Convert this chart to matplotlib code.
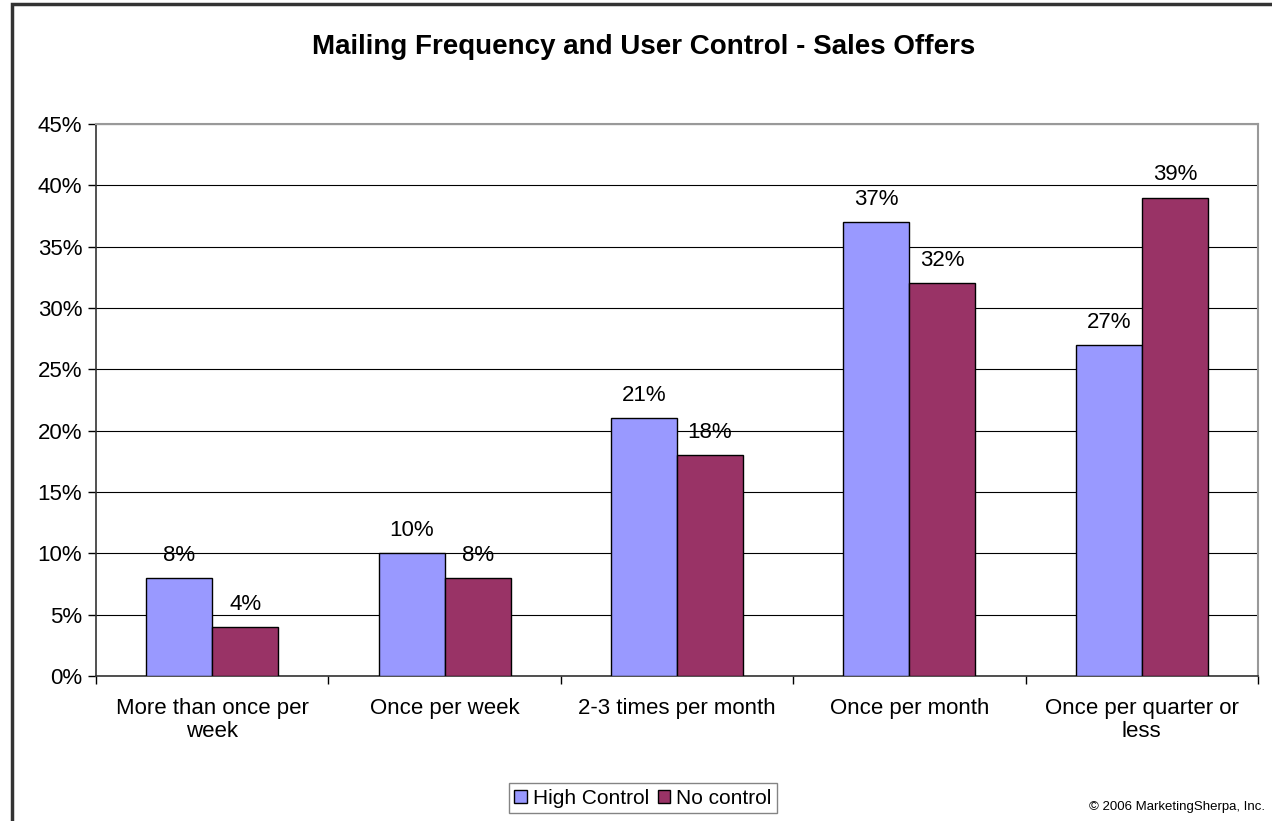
import numpy as np
import matplotlib.pyplot as plt
from matplotlib.patches import Rectangle

plt.rcParams['font.family'] = ['Liberation Sans', 'DejaVu Sans']

categories = ['More than once per\nweek', 'Once per week', '2-3 times per month',
              'Once per month', 'Once per quarter or\nless']
high_control = [8, 10, 21, 37, 27]
no_control = [4, 8, 18, 32, 39]
series_names = ['High Control', 'No control']
yticks = [0, 5, 10, 15, 20, 25, 30, 35, 40, 45]

fig = plt.figure(figsize=(12.72, 8.21), dpi=100)
fig.patches.append(Rectangle((12/1272, -0.1), 1.1, 1 - 4/821 + 0.1, transform=fig.transFigure,
                             fill=False, edgecolor='#333333', linewidth=2.5))

ax = fig.add_axes([96/1272, 1 - 676/821, (1258 - 96)/1272, (676 - 124)/821])

x = np.arange(len(categories))
w = 0.284
b1 = ax.bar(x - w/2, high_control, w, color='#9999FF', edgecolor='black', linewidth=1, label=series_names[0], zorder=3)
b2 = ax.bar(x + w/2, no_control, w, color='#993366', edgecolor='black', linewidth=1, label=series_names[1], zorder=3)

for bars, vals in [(b1, high_control), (b2, no_control)]:
    for bar, v in zip(bars, vals):
        ax.text(bar.get_x() + bar.get_width()/2, v + 1.0, f'{v}%', ha='center', va='bottom', fontsize=16)

ax.set_xlim(-0.5, len(categories) - 0.5)
ax.set_ylim(0, 45)
ax.set_yticks(yticks)
ax.set_yticklabels([f'{t}%' for t in yticks], fontsize=16)
ax.yaxis.grid(True, color='black', linewidth=0.8, zorder=0)
ax.tick_params(axis='y', length=6, width=1, pad=4)

ax.set_xticks(x)
ax.set_xticklabels(categories, fontsize=16, linespacing=1.1)
ax.tick_params(axis='x', length=0, pad=16)
ax.set_xticks(np.arange(-0.5, len(categories)), minor=True)
ax.tick_params(axis='x', which='minor', length=6, width=1)

for s in ['left', 'bottom']:
    ax.spines[s].set_color('#333333')
    ax.spines[s].set_linewidth(1.2)
for s in ['top', 'right']:
    ax.spines[s].set_color('#999999')
    ax.spines[s].set_linewidth(1.5)

fig.text(644/1272, 1 - 47/821, 'Mailing Frequency and User Control - Sales Offers',
         ha='center', va='center', fontsize=20, fontweight='bold')

leg = fig.legend(loc='center', bbox_to_anchor=(643/1272, 1 - 798/821), ncol=2, fontsize=15,
                 frameon=True, fancybox=False, edgecolor='#666666', handlelength=0.6,
                 handleheight=0.6, handletextpad=0.3, columnspacing=0.4, borderpad=0.25,
                 borderaxespad=0)
leg.get_frame().set_linewidth(1)

fig.text(1265/1272, 1 - 807/821, '© 2006 MarketingSherpa, Inc.', ha='right', va='center', fontsize=9.5)

fig.savefig('out.png', dpi=100)
